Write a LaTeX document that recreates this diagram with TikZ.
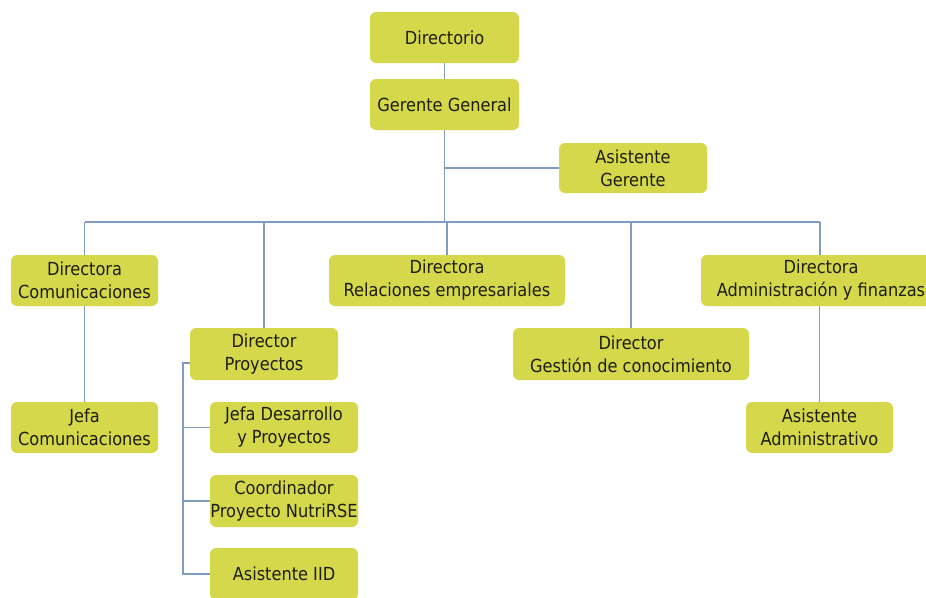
\documentclass[tikz,border=0pt]{standalone}
\usepackage{fontspec}
\setmainfont{DejaVu Sans Condensed}
\definecolor{boxfill}{HTML}{D4D84A}
\definecolor{linec}{HTML}{7F9CC2}
\definecolor{txt}{HTML}{1E1E10}
\begin{document}
\begin{tikzpicture}[x=1pt,y=-1pt,
  orgbox/.style={fill=boxfill, rounded corners=6pt, align=center, text=txt,
    inner sep=0pt, font=\fontsize{18}{23}\selectfont},
  conn/.style={draw=linec, line width=1.4pt}]
\useasboundingbox (0,0) rectangle (926,597);
\node[orgbox, minimum width=149pt, minimum height=51pt] (dir) at (444.5,37.5) {Directorio};
\node[orgbox, minimum width=149pt, minimum height=51pt] (gg) at (444.5,104.5) {Gerente General};
\node[orgbox, minimum width=148pt, minimum height=50pt] (ag) at (633,168) {Asistente\\Gerente};
\node[orgbox, minimum width=147pt, minimum height=51pt] (dc) at (84.5,280.5) {Directora\\Comunicaciones};
\node[orgbox, minimum width=148pt, minimum height=52pt] (dp) at (264,354) {Director\\Proyectos};
\node[orgbox, minimum width=236pt, minimum height=51pt] (dr) at (447,280.5) {Directora\\Relaciones empresariales};
\node[orgbox, minimum width=236pt, minimum height=52pt] (dg) at (631,354) {Director\\Gestión de conocimiento};
\node[orgbox, minimum width=240pt, minimum height=51pt] (da) at (821,280.5) {Directora\\Administración y finanzas};
\node[orgbox, minimum width=147pt, minimum height=51pt] (jc) at (84.5,427.5) {Jefa\\Comunicaciones};
\node[orgbox, minimum width=147pt, minimum height=51pt] (aa) at (819.5,427.5) {Asistente\\Administrativo};
\node[orgbox, minimum width=148pt, minimum height=51pt] (jd) at (284,427.5) {Jefa Desarrollo\\y Proyectos};
\node[orgbox, minimum width=148pt, minimum height=52pt] (co) at (284,501) {Coordinador\\Proyecto NutriRSE};
\node[orgbox, minimum width=148pt, minimum height=52pt] (ai) at (284,574) {Asistente IID};
\coordinate (busL) at (84.5,222);
\coordinate (busR) at (820,222);
\coordinate (br) at (183,363);
\draw[conn] (dir) -- (gg);
\draw[conn] (gg.south) -- (gg.south |- busL);
\draw[conn] (gg.south |- ag.west) -- (ag.west);
\draw[conn] (busL) -- (busR);
\draw[conn] (busL) -- (dc.north);
\draw[conn] (dp.north |- busL) -- (dp.north);
\draw[conn] (dr.north |- busL) -- (dr.north);
\draw[conn] (dg.north |- busL) -- (dg.north);
\draw[conn] (busR) -- (busR |- da.north);
\draw[conn] (dc.south) -- (jc.north);
\draw[conn] (aa.north |- da.south) -- (aa.north);
\draw[conn] (dp.west |- br) -- (br) -- (br |- ai.west) -- (ai.west);
\draw[conn] (br |- jd.west) -- (jd.west);
\draw[conn] (br |- co.west) -- (co.west);
\end{tikzpicture}
\end{document}
